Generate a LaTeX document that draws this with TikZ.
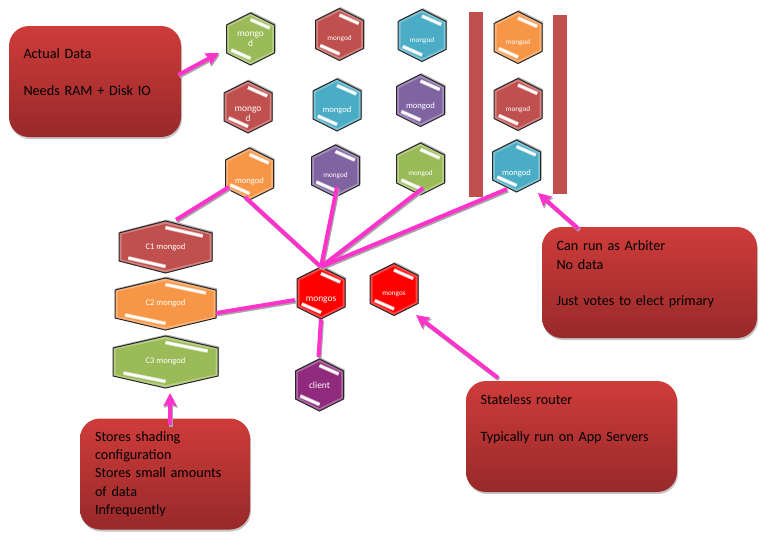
\documentclass[tikz,border=0pt]{standalone}
\usepackage{fontspec}
\setmainfont{Carlito}
\usetikzlibrary{arrows.meta,shadows}
\definecolor{hexgreen}{HTML}{9BBB59}
\definecolor{hexred}{HTML}{C0504D}
\definecolor{hexblue}{HTML}{4BACC6}
\definecolor{hexpurple}{HTML}{8064A2}
\definecolor{hexorange}{HTML}{F79646}
\definecolor{hexrouter}{HTML}{FF0000}
\definecolor{hexclient}{HTML}{8F2A7C}
\definecolor{boxtop}{HTML}{CE3C3A}
\definecolor{boxbottom}{HTML}{98292A}
\definecolor{wirepink}{HTML}{FF33CC}
\tikzset{
    note/.style = {rounded corners=20pt, top color=boxtop, bottom color=boxbottom, text=black,
        drop shadow={shadow xshift=1pt, shadow yshift=-2pt, fill=black!45}, font=\fontsize{14.2}{18.3}\selectfont,
        align=left, inner sep=0pt, minimum height=111pt},
    wire/.style = {draw=wirepink, line width=4pt,
        preaction={draw=black!35, line width=4pt, transform canvas={shift={(1pt,-1.5pt)}}}},
    pointer/.style = {wire, -{Stealth[length=13pt,width=13pt,inset=2pt]}},
    bar/.style = {draw=hexred, line width=14pt},
    hexlabel/.style = {text=white, align=center, inner sep=0pt, font=\fontsize{8.6}{10}\selectfont},
    smalllabel/.style = {hexlabel, font=\fontsize{7.2}{9}\selectfont},
    biglabel/.style = {hexlabel, font=\fontsize{9.4}{10}\selectfont},
}
% name, x, y, half width, colour, label style, label
\newcommand{\hexcell}[7]{
    \begin{scope}[shift={(#2,#3)}]
        \fill[black!30, shift={(1,-1.5)}] (0,-26) -- (#4,-14) -- (#4,14) -- (0,26) -- (-#4,14) -- (-#4,-14) -- cycle;
        \filldraw[draw=black!85, line width=1pt, fill=#5!72!white] (0,-26) -- (#4,-14) -- (#4,14) -- (0,26) -- (-#4,14) -- (-#4,-14) -- cycle;
        \fill[#5] (0,-23) -- (#4-2.5,-12.5) -- (#4-2.5,12.5) -- (0,23) -- (-#4+2.5,12.5) -- (-#4+2.5,-12.5) -- cycle;
        \draw[#5!50!white, line width=4pt] (0,-19.5) -- (#4*0.8,-11);
        \draw[#5!50!white, line width=4pt] (0,19.5) -- (-#4*0.8,11);
        \draw[white, line width=2.5pt] (0,-19.5) -- (#4*0.8,-11);
        \draw[white, line width=2.5pt] (0,19.5) -- (-#4*0.8,11);
        \node[minimum width=2*#4 pt, minimum height=52pt, inner sep=0pt] (#1) at (0,0) {};
        \node[#6] (#1text) at (0,0) {#7};
    \end{scope}
}
\begin{document}
\begin{tikzpicture}[x=1pt, y=-1pt]
        \useasboundingbox (0,0) rectangle (771,539);
        \fill[white] (0,0) rectangle (771,539);

        \draw[bar] (475.5,12) -- (475.5,197);
        \draw[bar] (560,15) -- (560,194);

        \hexcell{a1}{250.5}{39}{24}{hexgreen}{biglabel}{mongo\\d}
        \hexcell{b1}{339.5}{34.5}{24}{hexred}{smalllabel, yshift=-4.5pt}{mongod}
        \hexcell{c1}{422}{35.5}{24}{hexblue}{smalllabel, yshift=-5pt}{mongod}
        \hexcell{d1}{518}{37.5}{24}{hexorange}{smalllabel, yshift=-5pt}{mongod}
        \hexcell{a2}{248}{107}{24}{hexred}{biglabel, yshift=-7pt}{mongo\\d}
        \hexcell{b2}{337}{105}{24}{hexblue}{hexlabel, yshift=-5pt}{mongod}
        \hexcell{c2}{420.5}{100.5}{24}{hexpurple}{hexlabel, yshift=-5.5pt}{mongod}
        \hexcell{d2}{518}{104.5}{24}{hexred}{smalllabel, yshift=-5.5pt}{mongod}
        \hexcell{a3}{249.5}{174}{24}{hexorange}{hexlabel, yshift=-7pt}{mongod}
        \hexcell{b3}{335.5}{171}{24}{hexpurple}{smalllabel, yshift=-5pt}{mongod}
        \hexcell{c3}{420.5}{169}{24}{hexgreen}{smalllabel, yshift=-4.5pt}{mongod}
        \hexcell{d3}{516.5}{166}{24}{hexblue}{hexlabel, yshift=-7pt}{mongod}

        \hexcell{cfg1}{165.5}{247}{46.5}{hexred}{hexlabel}{C1 mongod}
        \hexcell{cfg2}{165.5}{304}{50.5}{hexorange}{hexlabel, yshift=1pt}{C2 mongod}
        \hexcell{cfg3}{165.5}{362}{52.5}{hexgreen}{hexlabel, yshift=1pt}{C3 mongod}

        \hexcell{router}{321}{293}{24}{hexrouter}{biglabel, yshift=-7pt}{mongos}
        \hexcell{spare}{394}{289.5}{24}{hexrouter}{smalllabel, yshift=-5pt}{mongos}
        \hexcell{client}{319.5}{385}{24}{hexclient}{biglabel}{client}

        \draw[wire] ([shift={(10.5,-1)}]cfg1.north) -- ([shift={(-20.5,13)}]a3.center);
        \draw[wire] (router.north) -- ([shift={(-4.5,23)}]a3.center);
        \draw[wire] (router.north) -- ([shift={(1.5,16)}]b3.center);
        \draw[wire] (router.north) -- ([shift={(2.5,19)}]c3.center);
        \draw[wire] (router.north) -- ([shift={(-9.5,23)}]d3.center);
        \draw[wire] ([shift={(0,9)}]cfg2.east) -- ([shift={(-2,7)}]router.west);
        \draw[wire] (router.south) -- ([shift={(-1,-2)}]client.north);

        \node[note, minimum width=172pt, text width=143pt] (data) at (95,81.5) {Actual Data\\[18.3pt]Needs RAM + Disk IO\\\mbox{}};
        \node[note, minimum width=215pt, text width=186pt] (arbiter) at (649.5,282.5) {Can run as Arbiter\\No data\\[18.3pt]Just votes to elect primary\\\mbox{}};
        \node[note, minimum width=211pt, text width=182pt] (stateless) at (571.5,436.5) {Stateless router\\[18.3pt]Typically run on App Servers\\[18.3pt]\mbox{}};
        \node[note, minimum width=170pt, text width=140pt] (shards) at (165,474) {Stores shading\\configuration\\Stores small amounts\\of data\\Infrequently};

        \coordinate (dataend) at (219,53);
        \coordinate (arbiterend) at (538,193);
        \coordinate (statelessend) at (416,315);
        \coordinate (shardsend) at (170,393);
        \draw[pointer] ([shift={(-3,-6.5)}]data.east) -- (dataend);
        \draw[pointer] ([shift={(-71,2)}]arbiter.north) -- (arbiterend);
        \draw[pointer] ([shift={(-73.5,-3)}]stateless.north) -- (statelessend);
        \draw[pointer] ([shift={(5,7)}]shards.north) -- (shardsend);
    \end{tikzpicture}
\end{document}
